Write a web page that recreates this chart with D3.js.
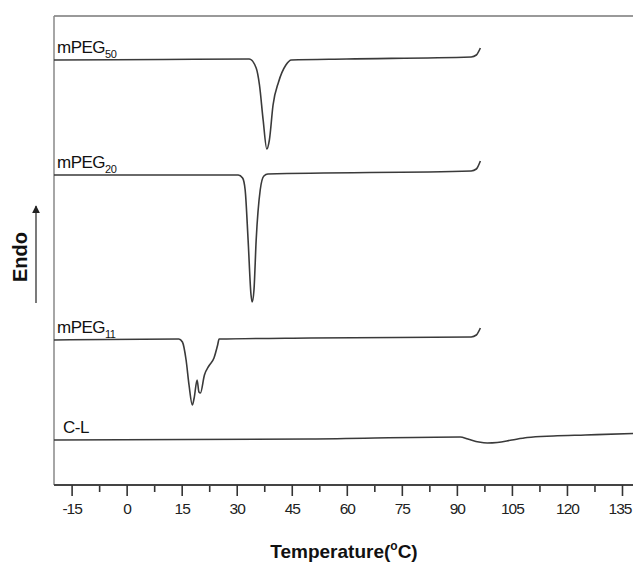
<!DOCTYPE html>
<html>
<head>
<meta charset="utf-8">
<script src="https://cdn.jsdelivr.net/npm/d3@7"></script>
<style>
  body { margin: 0; background: #fff; }
  text { font-family: "Liberation Sans", Arial, sans-serif; }
</style>
</head>
<body>
<svg class="dsc"></svg>
<script>
// DSC heating traces, heat flow in arbitrary units (curves offset for clarity)
var labels = ["50", "20", "11"];
var tempTicks = [-15, 0, 15, 30, 45, 60, 75, 90, 105, 120, 135];

var mpeg50 = [[-19.8, 42.5], [10, 42.55], [33.4, 42.6], [35.3, 41.7], [36.2, 40.0], [37.2, 36.5],
  [38.2, 33.6], [38.9, 34.5], [39.9, 38.0], [41.4, 40.3], [43.4, 42.0], [44.9, 42.5],
  [60, 42.6], [93.9, 42.8], [95.3, 43.0], [96.4, 43.7]];
var mpeg20 = [[-19.8, 31.0], [30.4, 31.0], [31.6, 30.7], [32.3, 29.5], [33.1, 24.5], [33.9, 19.0],
  [34.2, 18.3], [34.7, 19.5], [35.3, 24.5], [36.4, 29.5], [37.4, 30.9], [38.5, 31.1],
  [93.9, 31.4], [95.3, 31.6], [96.4, 32.4]];
var mpeg11 = [[-19.8, 14.5], [14.2, 14.6], [15.2, 14.3], [16.2, 12.5], [17.0, 10.0], [17.9, 8.0],
  [18.4, 8.7], [19.2, 10.5], [19.7, 9.3], [20.1, 9.2], [21.2, 11.0], [22.4, 11.9],
  [23.8, 12.7], [24.8, 14.0], [25.2, 14.6], [50, 14.7], [93.9, 14.8], [95.3, 15.0], [96.4, 15.7]];
var cl = [[-19.8, 4.5], [50, 4.6], [90.9, 4.8], [93, 4.6], [96, 4.3], [98.3, 4.2], [101, 4.25],
  [105, 4.5], [109.2, 4.75], [116.3, 4.9], [125, 5.0], [138, 5.15]];

var series = [
  { name: "mPEG", sub: labels[0], values: mpeg50 },
  { name: "mPEG", sub: labels[1], values: mpeg20 },
  { name: "mPEG", sub: labels[2], values: mpeg11 },
  { name: "C-L", sub: "", values: cl }
];

var width = 633, height = 564;
var svg = d3.select(".dsc").attr("width", width).attr("height", height);

var x = d3.scaleLinear().domain([-19.8, 138]).range([54, 633]);
var y = d3.scaleLinear().domain([0, 47]).range([485, 15]);

// frame: top and left only
svg.append("line").attr("x1", 54).attr("x2", 633).attr("y1", 16).attr("y2", 16)
  .attr("stroke", "#777").attr("stroke-width", 1.5);
svg.append("line").attr("x1", 54).attr("x2", 54).attr("y1", 16).attr("y2", 485)
  .attr("stroke", "#888").attr("stroke-width", 1.5);

// bottom axis with minor ticks
var minor = d3.range(-7.5, 136, 15);
svg.append("g").attr("transform", "translate(0,485)")
  .call(d3.axisBottom(x).tickValues(minor).tickSize(7).tickFormat(""))
  .call(function (g) { g.select(".domain").remove(); })
  .selectAll("line").attr("stroke", "#333").attr("stroke-width", 1.6);

var xAxis = svg.append("g").attr("transform", "translate(0,485)")
  .call(d3.axisBottom(x).tickValues(tempTicks).tickSize(11).tickSizeOuter(0).tickPadding(7)
    .tickFormat(function (d) { return String(d); }));
xAxis.select(".domain").attr("stroke", "#444").attr("stroke-width", 2.2)
  .attr("d", "M54,0H633");
xAxis.selectAll(".tick line").attr("stroke", "#333").attr("stroke-width", 1.6);
xAxis.selectAll(".tick text").attr("font-size", 15.5).attr("fill", "#222")
  .attr("letter-spacing", -1)
  .attr("dx", function (d) { return d === 135 ? -2.5 : 0; })
  .attr("font-family", "Liberation Sans, Arial, sans-serif");

// axis titles
var xt = svg.append("text").attr("x", 344).attr("y", 558).attr("text-anchor", "middle")
  .attr("font-size", 19).attr("font-weight", "bold").attr("fill", "#111");
xt.append("tspan").text("Temperature(");
xt.append("tspan").attr("font-size", 12).attr("dy", -8).text("o");
xt.append("tspan").attr("dy", 8).text("C)");

svg.append("text").attr("transform", "translate(27,257) rotate(-90)")
  .attr("text-anchor", "middle").attr("font-size", 20).attr("font-weight", "bold")
  .attr("fill", "#111").text("Endo");

svg.append("defs").append("marker").attr("id", "arr")
  .attr("viewBox", "0 0 10 10").attr("refX", 9).attr("refY", 5)
  .attr("markerWidth", 6).attr("markerHeight", 8).attr("orient", "auto")
  .append("path").attr("d", "M0,0L10,5L0,10Z").attr("fill", "#222");
svg.append("line").attr("x1", 36).attr("x2", 36).attr("y1", 303).attr("y2", 206)
  .attr("stroke", "#333").attr("stroke-width", 1.3).attr("marker-end", "url(#arr)");

// traces
var line = d3.line()
  .x(function (d) { return x(d[0]); })
  .y(function (d) { return y(d[1]); })
  .curve(d3.curveMonotoneX);

var g = svg.selectAll(".trace").data(series).enter().append("g").attr("class", "trace");

g.append("path")
  .attr("d", function (d) { return line(d.values); })
  .attr("fill", "none").attr("stroke", "#3a3a3a").attr("stroke-width", 1.6);

var lab = g.append("text")
  .attr("x", function (d) { return d.sub ? 57 : 63; })
  .attr("y", function (d) { return y(d.values[0][1]) - 7; })
  .attr("font-size", 17).attr("fill", "#111").attr("letter-spacing", -0.5);
lab.append("tspan").text(function (d) { return d.name; });
lab.append("tspan").attr("font-size", 11).attr("dy", 5)
  .text(function (d) { return d.sub; });
</script>
</body>
</html>
